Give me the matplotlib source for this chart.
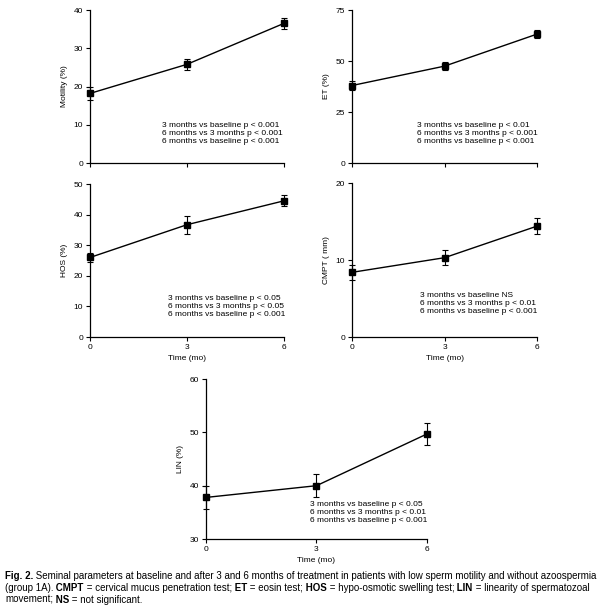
import matplotlib
matplotlib.use('Agg')
import matplotlib.pyplot as plt

plt.rcParams['font.family'] = ['Liberation Sans', 'DejaVu Sans']

# Data
months = [0, 3, 6]
motility = [18.2, 25.8, 36.5]
motility_err = [1.6, 1.4, 1.4]
et = [38.0, 47.5, 63.2]
et_err = [2.0, 1.8, 1.8]
hos = [26.0, 36.7, 44.5]
hos_err = [1.5, 3.0, 1.8]
cmpt = [8.4, 10.3, 14.4]
cmpt_err = [1.0, 1.0, 1.0]
lin = [37.8, 40.0, 49.7]
lin_err = [2.2, 2.2, 2.0]

panels = [
    # values, errors, ylabel, yticks, stats text, show x tick labels, marker size
    (motility, motility_err, 'Motility (%)', [0, 10, 20, 30, 40],
     '3 months vs baseline p < 0.001\n6 months vs 3 months p < 0.001\n6 months vs baseline p < 0.001', False, 5),
    (et, et_err, 'ET (%)', [0, 25, 50, 75],
     '3 months vs baseline p < 0.01\n6 months vs 3 months p < 0.001\n6 months vs baseline p < 0.001', False, 5),
    (hos, hos_err, 'HOS (%)', [0, 10, 20, 30, 40, 50],
     '3 months vs baseline p < 0.05\n6 months vs 3 months p < 0.05\n6 months vs baseline p < 0.001', True, 5),
    (cmpt, cmpt_err, 'CMPT ( mm)', [0, 10, 20],
     '3 months vs baseline NS\n6 months vs 3 months p < 0.01\n6 months vs baseline p < 0.001', True, 4),
    (lin, lin_err, 'LIN (%)', [30, 40, 50, 60],
     '3 months vs baseline p < 0.05\n6 months vs 3 months p < 0.01\n6 months vs baseline p < 0.001', True, 4),
]

# axes rectangles [left, bottom, width, height] and text anchor (axes fraction)
rects = [
    [0.150, 0.7323, 0.323, 0.2512],
    [0.5867, 0.7323, 0.3083, 0.2512],
    [0.150, 0.4466, 0.323, 0.2512],
    [0.5867, 0.4466, 0.3083, 0.2529],
    [0.3433, 0.1149, 0.3683, 0.2627],
]
text_pos = [(0.371, 0.265), (0.351, 0.265), (0.402, 0.273), (0.368, 0.291), (0.471, 0.236)]

fig = plt.figure(figsize=(6.0, 6.09), dpi=100)

for (vals, errs, ylab, yt, stats, xlab, ms), rect, tp in zip(panels, rects, text_pos):
    ax = fig.add_axes(rect)
    ax.errorbar(months, vals, yerr=errs, color='black', lw=1.0, marker='s',
                markersize=ms, capsize=2.5, elinewidth=0.8, capthick=0.8,
                clip_on=False, zorder=3)
    ax.set_xlim(0, 6)
    ax.set_ylim(yt[0], yt[-1])
    ax.set_xticks(months)
    ax.set_yticks(yt)
    ax.spines['top'].set_visible(False)
    ax.spines['right'].set_visible(False)
    ax.spines['left'].set_linewidth(0.9)
    ax.spines['bottom'].set_linewidth(0.9)
    ax.tick_params(direction='out', length=3, width=0.8, labelsize=6, pad=2)
    if xlab:
        ax.set_xlabel('Time (mo)', fontsize=6, labelpad=3)
    else:
        ax.set_xticklabels([])
    ax.set_ylabel(ylab, fontsize=6, labelpad=4)
    ax.text(tp[0], tp[1], stats, transform=ax.transAxes, fontsize=6.05,
            va='top', ha='left', linespacing=1.15)

# caption with bold abbreviations (spaces kept at the start of pieces,
# trailing spaces are not counted in the text extent)
caption = [
    [('Fig. 2.', 'bold'), (' Seminal parameters at baseline and after 3 and 6 months of treatment in patients with low sperm motility and without azoospermia', 'normal')],
    [('(group 1A).', 'normal'), (' CMPT', 'bold'), (' = cervical mucus penetration test;', 'normal'), (' ET', 'bold'),
     (' = eosin test;', 'normal'), (' HOS', 'bold'), (' = hypo-osmotic swelling test;', 'normal'), (' LIN', 'bold'),
     (' = linearity of spermatozoal', 'normal')],
    [('movement;', 'normal'), (' NS', 'bold'), (' = not significant.', 'normal')],
]
renderer = fig.canvas.get_renderer()
line_y = [1 - 576 / 609, 1 - 588 / 609, 1 - 600 / 609]
for parts, y in zip(caption, line_y):
    x = 5 / 600
    for s, w in parts:
        t = fig.text(x, y, s, fontsize=7.0, fontweight=w, va='center', ha='left')
        bb = t.get_window_extent(renderer=renderer)
        x += bb.width / fig.bbox.width

fig.savefig('out.png', dpi=100)
